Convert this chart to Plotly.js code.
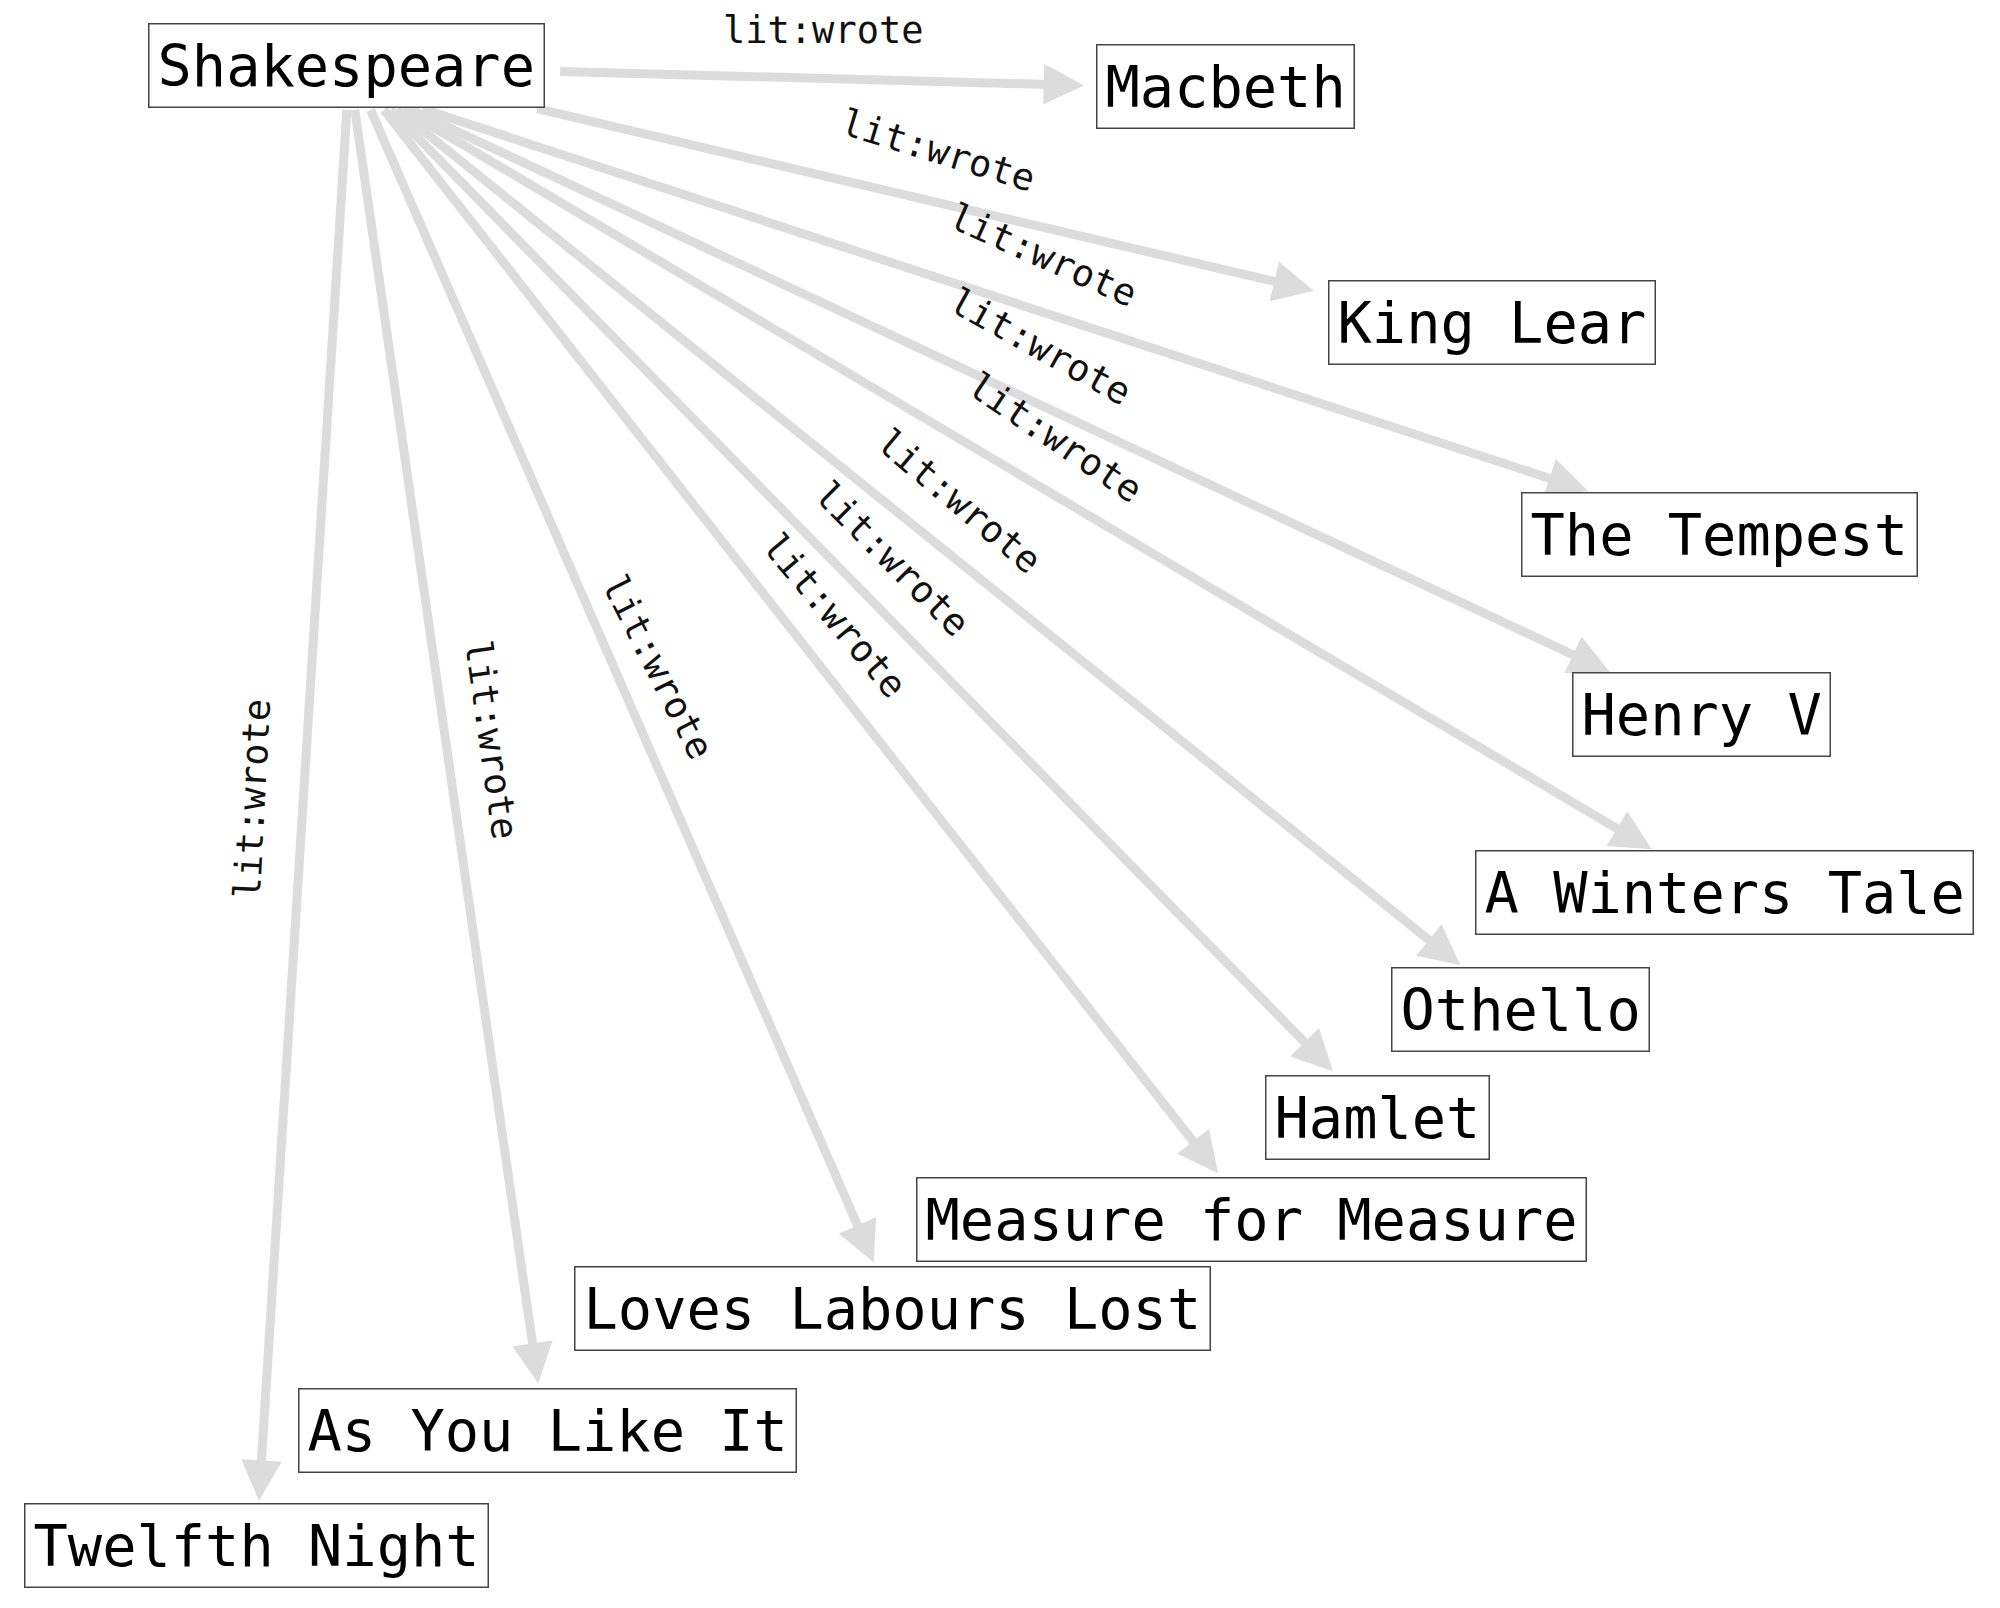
<!DOCTYPE html>
<html><head><meta charset="utf-8">
<script src="https://cdn.plot.ly/plotly-3.0.1.min.js"></script>
<style>body{margin:0}</style></head><body>
<div id="c" style="width:2000px;height:1608px"></div>
<script>
const nodes = ["Shakespeare","Macbeth","King Lear","The Tempest","Henry V","A Winters Tale","Othello","Hamlet","Measure for Measure","Loves Labours Lost","As You Like It","Twelfth Night"];
const nodeX = [272,961,1170,1348,1334,1352,1192,1080,981,700,429,201];
const nodeY = [51,68,253,419,560,700,792,876,956,1026,1122,1212];
const edgeLabel = "lit:wrote";
const edgeFromX = [438,420,330,320,315,310,305,300,290,278,272];
const edgeFromY = [56,85,85,85,85,85,85,85,85,85,85];
const edgeToX = [850,1030,1245,1262,1295,1145,1045,955,685,422,203];
const edgeToY = [67,228,385,527,666,757,840,920,990,1085,1177];
const labelX = [645,735,818,815,827,752,699,654,515,385,198];
const labelY = [24,118,200,272,343,393,438,483,523,580,627];
const labelAngle = [0,17,24,29,34,40,45,50,63,82,-87];

const ann = [];
for (let i=0;i<edgeToX.length;i++){
  ann.push({x:edgeToX[i],y:edgeToY[i],ax:edgeFromX[i],ay:edgeFromY[i],xref:'x',yref:'y',axref:'x',ayref:'y',
    text:'',showarrow:true,arrowhead:2,arrowsize:0.9,arrowwidth:9,arrowcolor:'#dcdcdc'});
}
for (let i=0;i<labelX.length;i++){
  ann.push({x:labelX[i],y:labelY[i],xref:'x',yref:'y',text:edgeLabel,showarrow:false,textangle:labelAngle[i],
    font:{family:'DejaVu Sans Mono',size:37,color:'#111'}});
}
for (let i=0;i<nodes.length;i++){
  ann.push({x:nodeX[i],y:nodeY[i],xref:'x',yref:'y',text:nodes[i],showarrow:false,bgcolor:'white',
    bordercolor:'#444',borderwidth:1.5,borderpad:8,font:{family:'DejaVu Sans Mono',size:57,color:'#000'}});
}
Plotly.newPlot('c',[{x:[],y:[],type:'scatter'}],{
  width:2000,height:1608,margin:{l:0,r:0,t:0,b:0},showlegend:false,
  paper_bgcolor:'white',plot_bgcolor:'white',
  xaxis:{range:[0,1568],visible:false,fixedrange:true},
  yaxis:{range:[1261,0],visible:false,fixedrange:true},
  annotations:ann
},{staticPlot:true});
</script></body></html>
